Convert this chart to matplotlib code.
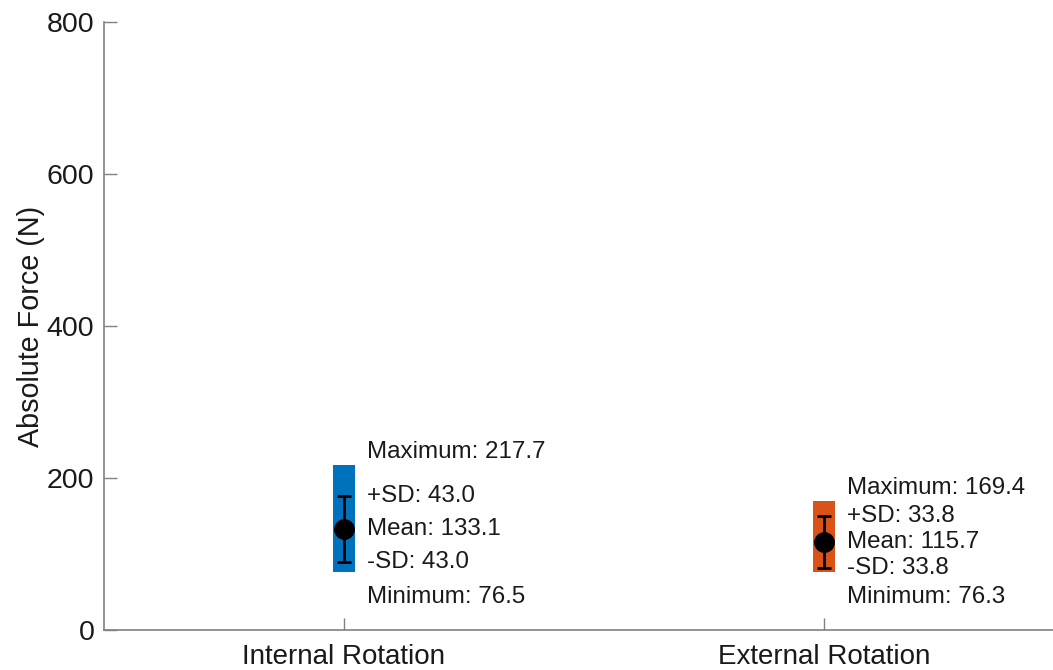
import matplotlib.pyplot as plt

plt.rcParams['font.family'] = ['Liberation Sans', 'DejaVu Sans']

categories = ['Internal Rotation', 'External Rotation']
maximum = [217.7, 169.4]
minimum = [76.5, 76.3]
mean = [133.1, 115.7]
sd = [43.0, 33.8]
colors = ['#0072BD', '#D95319']
y_ticks = [0, 200, 400, 600, 800]

fig = plt.figure(figsize=(10.53, 6.70), dpi=100)
# axes run past the right edge of the figure, as in the reference crop
ax = fig.add_axes([104 / 1053, 40 / 670, 960 / 1053, 608 / 670])

xs = [1, 2]
txt = dict(fontsize=17.4, va='center', color='#1a1a1a')
for x, lo, hi, m, s, c in zip(xs, minimum, maximum, mean, sd, colors):
    ax.bar(x, hi - lo, bottom=lo, width=0.044, color=c, zorder=1)
    ax.errorbar(x, m, yerr=s, fmt='o', color='black', markersize=14,
                elinewidth=2, capsize=5, capthick=2, zorder=2)
    tx = x + 0.048
    ax.text(tx, hi + 17, f'Maximum: {hi:.1f}', **txt)
    ax.text(tx, m + s, f'+SD: {s:.1f}', **txt)
    ax.text(tx, m, f'Mean: {m:.1f}', **txt)
    ax.text(tx, m - s, f'-SD: {s:.1f}', **txt)
    ax.text(tx, lo - 33, f'Minimum: {lo:.1f}', **txt)

ax.set_xlim(0.5, 2.5)
ax.set_ylim(0, 800)
ax.set_xticks(xs)
ax.set_xticklabels(categories)
ax.set_yticks(y_ticks)
ax.set_ylabel('Absolute Force (N)', fontsize=20.7, color='#1a1a1a', labelpad=1)

for side in ['top', 'right']:
    ax.spines[side].set_visible(False)
for side in ['left', 'bottom']:
    ax.spines[side].set_color('#808080')
    ax.spines[side].set_linewidth(1.2)
ax.tick_params(direction='in', length=9, width=1, color='#808080',
               labelcolor='#1a1a1a')
ax.tick_params(axis='y', labelsize=20.5, pad=7)
ax.tick_params(axis='x', labelsize=20, pad=10)

fig.savefig('out.png', dpi=100)
